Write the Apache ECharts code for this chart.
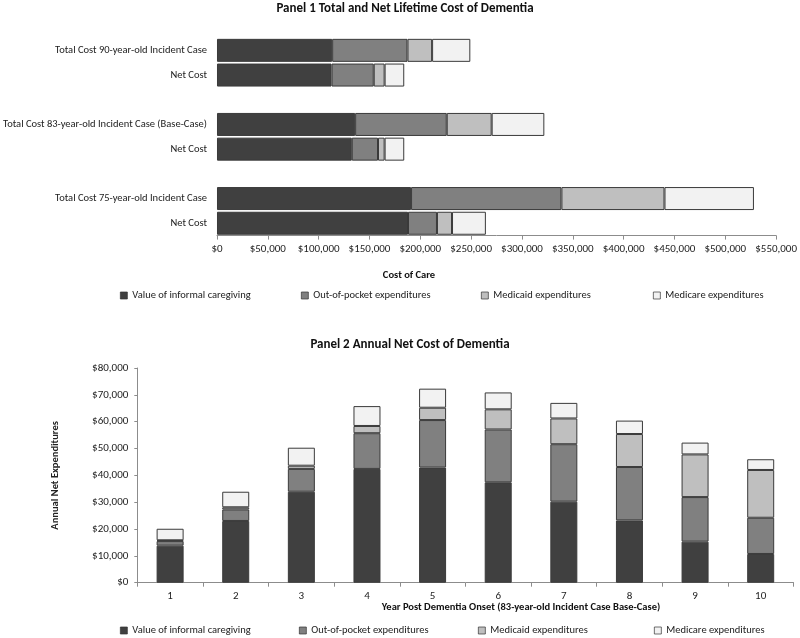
<!DOCTYPE html>
<html>
<head>
<meta charset="utf-8">
<script src="https://cdn.jsdelivr.net/npm/echarts@6/dist/echarts.min.js"></script>
<style>
html,body{margin:0;padding:0;background:#fff;}
#chart{width:800px;height:638px;}
</style>
</head>
<body>
<div id="chart"></div>
<script>
// ---------- DATA ----------
var seriesNames = ['Value of informal caregiving', 'Out-of-pocket expenditures', 'Medicaid expenditures', 'Medicare expenditures'];

// Panel 1 (horizontal stacked bars, top to bottom)
var categories1 = ['Total Cost 90-year-old Incident Case', 'Net Cost', '', 'Total Cost 83-year-old Incident Case (Base-Case)', 'Net Cost', '', 'Total Cost 75-year-old Incident Case', 'Net Cost'];
var informal1 = [113300, 112700, null, 135900, 132600, null, 190900, 187900];
var oop1      = [74100, 41500, null, 90100, 25800, null, 147900, 28500];
var medicaid1 = [24200, 10700, null, 44200, 6500, null, 101400, 14800];
var medicare1 = [37600, 19300, null, 51800, 19300, null, 88000, 33300];
var xTicks1 = {min: 0, max: 550000, interval: 50000};

// Panel 2 (vertical stacked bars)
var categories2 = ['1', '2', '3', '4', '5', '6', '7', '8', '9', '10'];
var informal2 = [13800, 23000, 33900, 42400, 42900, 37400, 30200, 23200, 15300, 10700];
var oop2      = [1700, 4300, 8500, 13300, 17700, 19700, 21400, 19900, 16600, 13500];
var medicaid2 = [300, 800, 1200, 2700, 4600, 7500, 9600, 12300, 15900, 17800];
var medicare2 = [4300, 5800, 6700, 7400, 7100, 6300, 5800, 5000, 4400, 4000];
var yTicks2 = {min: 0, max: 80000, interval: 10000};

// ---------- STYLE ----------
var FONT = 'Carlito, "Liberation Sans Narrow", "Liberation Sans", sans-serif';
var colors = ['#404040', '#808080', '#bfbfbf', '#f2f2f2'];
var borderCol = '#3a3a3a';
function money(v){ return '$' + Number(v).toLocaleString('en-US'); }

var chart = echarts.init(document.getElementById('chart'), null, {renderer: 'canvas'});

var values1 = [informal1, oop1, medicaid1, medicare1];
var values2 = [informal2, oop2, medicaid2, medicare2];
var series = [];
seriesNames.forEach(function(n, i){
  series.push({
    name: n, type: 'bar', stack: 'p1', xAxisIndex: 0, yAxisIndex: 0,
    barWidth: 23, data: values1[i],
    itemStyle: {color: colors[i], borderColor: borderCol, borderWidth: 1},
    emphasis: {disabled: true}, animation: false
  });
});
seriesNames.forEach(function(n, i){
  series.push({
    name: n, type: 'bar', stack: 'p2', xAxisIndex: 1, yAxisIndex: 1,
    barWidth: 27, data: values2[i],
    itemStyle: {color: colors[i], borderColor: borderCol, borderWidth: 1},
    emphasis: {disabled: true}, animation: false
  });
});

function makeLegend(name, left, top){
  return {
    data: [name], left: left, top: top, selectedMode: false,
    itemWidth: 7, itemHeight: 7, icon: 'rect', padding: 0,
    itemStyle: {borderWidth: 0.7, borderColor: '#333'},
    textStyle: {fontFamily: FONT, fontSize: 10.5, color: '#222'}
  };
}
var legends = [
  makeLegend(seriesNames[0], 120, 290),
  makeLegend(seriesNames[1], 301, 290),
  makeLegend(seriesNames[2], 481, 290),
  makeLegend(seriesNames[3], 653, 290),
  makeLegend(seriesNames[0], 120, 625),
  makeLegend(seriesNames[1], 299, 625),
  makeLegend(seriesNames[2], 478, 625),
  makeLegend(seriesNames[3], 654, 625)
];

var axisLineStyle = {color: '#8c8c8c', width: 1};

var option = {
  backgroundColor: '#fff',
  animation: false,
  textStyle: {fontFamily: FONT},
  grid: [
    {left: 211.7, right: 20, top: 38, bottom: 402.4, containLabel: false},
    {left: 137.3, right: 6.5, top: 368, bottom: 55.3, containLabel: false}
  ],
  legend: legends,
  xAxis: [
    {
      type: 'value', gridIndex: 0, min: xTicks1.min, max: xTicks1.max, interval: xTicks1.interval,
      axisLine: {show: true, lineStyle: axisLineStyle},
      axisTick: {show: true, length: 4, lineStyle: axisLineStyle},
      splitLine: {show: false},
      axisLabel: {formatter: money, fontFamily: FONT, fontSize: 11, color: '#222', margin: 8}
    },
    {
      type: 'category', gridIndex: 1, data: categories2,
      axisLine: {show: true, lineStyle: axisLineStyle},
      axisTick: {show: true, length: 4, alignWithLabel: false, lineStyle: axisLineStyle},
      axisLabel: {fontFamily: FONT, fontSize: 11, color: '#222', margin: 8}
    }
  ],
  yAxis: [
    {
      type: 'category', gridIndex: 0, data: categories1, inverse: true,
      axisLine: {show: false}, axisTick: {show: false},
      axisLabel: {fontFamily: FONT, fontSize: 10.5, color: '#222', margin: 10, interval: 0}
    },
    {
      type: 'value', gridIndex: 1, min: yTicks2.min, max: yTicks2.max, interval: yTicks2.interval,
      name: 'Annual Net Expenditures', nameLocation: 'middle', nameGap: 76,
      nameTextStyle: {fontFamily: FONT, fontSize: 10.5, fontWeight: 'bold', color: '#222'},
      axisLine: {show: true, lineStyle: axisLineStyle},
      axisTick: {show: true, length: 3, lineStyle: axisLineStyle},
      splitLine: {show: false},
      axisLabel: {formatter: money, fontFamily: FONT, fontSize: 11, color: '#222', margin: 9}
    }
  ],
  graphic: [
    {type: 'text', x: 405, y: 9, style: {text: 'Panel 1 Total and Net Lifetime Cost of Dementia', textAlign: 'center', textVerticalAlign: 'middle', font: 'bold 13px ' + FONT, fill: '#111'}},
    {type: 'text', x: 409, y: 275, style: {text: 'Cost of Care', textAlign: 'center', textVerticalAlign: 'middle', font: 'bold 10.5px ' + FONT, fill: '#111'}},
    {type: 'text', x: 410, y: 345, style: {text: 'Panel 2 Annual Net Cost of Dementia', textAlign: 'center', textVerticalAlign: 'middle', font: 'bold 13px ' + FONT, fill: '#111'}},
    {type: 'text', x: 521, y: 607, style: {text: 'Year Post Dementia Onset (83-year-old Incident Case Base-Case)', textAlign: 'center', textVerticalAlign: 'middle', font: 'bold 10.5px ' + FONT, fill: '#111'}}
  ],
  series: series
};
chart.setOption(option);
</script>
</body>
</html>
